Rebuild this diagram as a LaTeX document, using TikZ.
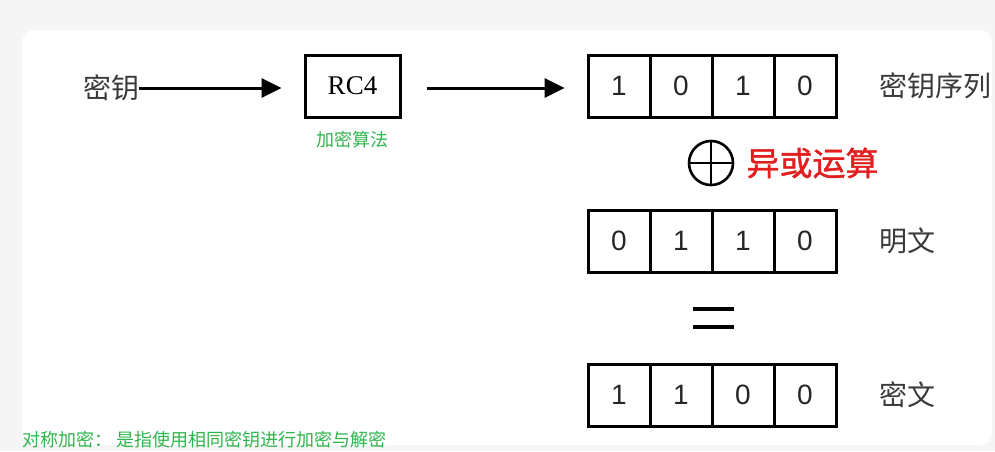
\documentclass[tikz,border=0pt]{standalone}
\usepackage{fontspec}
\setmainfont{Liberation Sans}
\newfontfamily\cjk{Noto Sans CJK SC}
\newfontfamily\cjkheavy[FakeBold=1.2]{Noto Sans CJK SC}
\newfontfamily\serifrc{Liberation Serif}
\usetikzlibrary{arrows.meta,positioning}
\definecolor{notegreen}{RGB}{46,182,76}
\definecolor{xorred}{RGB}{226,30,30}
\definecolor{labelgray}{RGB}{58,58,58}
\definecolor{framegray}{RGB}{245,245,245}

\begin{document}
\begin{tikzpicture}[x=1pt,y=-1pt,>={Triangle[length=20pt,width=19pt]}]
\tikzstyle{cell}=[draw,line width=3pt,minimum size=62pt,inner sep=0pt,text=black!85,font=\fontsize{28}{30}\selectfont]
\tikzstyle{tag}=[inner sep=0pt,text=labelgray,font=\cjk\fontsize{28}{30}\selectfont]
\tikzstyle{note}=[inner sep=0pt,text=notegreen,font=\cjk\fontsize{18}{20}\selectfont]
\tikzstyle{flow}=[->,line width=3pt]
\useasboundingbox (0,0) rectangle (995,451);
\fill[framegray] (0,0) rectangle (995,451);
\fill[white,rounded corners=12pt] (22,30) rectangle (992,445);
% key -> RC4 -> key stream
\node[tag] (key) at (111,88) {密钥};
\node[draw,line width=3pt,minimum width=95pt,minimum height=62pt,font=\serifrc\fontsize{27}{30}\selectfont] (rc4) at (352.5,86) {RC4};
\node[note,below=12pt of rc4] (algtag) {加密算法};
\foreach \b [count=\i] in {1,0,1,0}
  \node[cell] (k\i) at (557+62*\i,86) {\b};
\node[tag,right=42pt of k4] (seqtag) {密钥序列};
\draw[flow,shorten >=22pt] (key.east) -- (key.east -| rc4.west);
\draw[flow,shorten <=25pt,shorten >=22pt] (key.east -| rc4.east) -- (key.east -| k1.west);
% xor
\node[circle,draw,line width=2.6pt,minimum size=44pt,inner sep=0pt] (xor) at (711,163) {};
\draw[line width=2.6pt] (xor.north) -- (xor.south) (xor.west) -- (xor.east);
\node[inner sep=0pt,right=12pt of xor,text=xorred,font=\cjkheavy\fontsize{33}{34}\selectfont] (xortag) {异或运算};
% plaintext
\foreach \b [count=\i] in {0,1,1,0}
  \node[cell] (p\i) at (557+62*\i,241) {\b};
\node[tag,right=42pt of p4] (plaintag) {明文};
% equals
\coordinate (eq) at (713,318);
\draw[line width=3.2pt] ([xshift=-20pt,yshift=9pt]eq) -- ++(41,0) ([xshift=-20pt,yshift=-9pt]eq) -- ++(41,0);
% ciphertext
\foreach \b [count=\i] in {1,1,0,0}
  \node[cell] (c\i) at (557+62*\i,395) {\b};
\node[tag,right=42pt of c4] (ciphertag) {密文};
\node[note,anchor=west] (caption) at (22,440) {对称加密：\ 是指使用相同密钥进行加密与解密};
\end{tikzpicture}
\end{document}
